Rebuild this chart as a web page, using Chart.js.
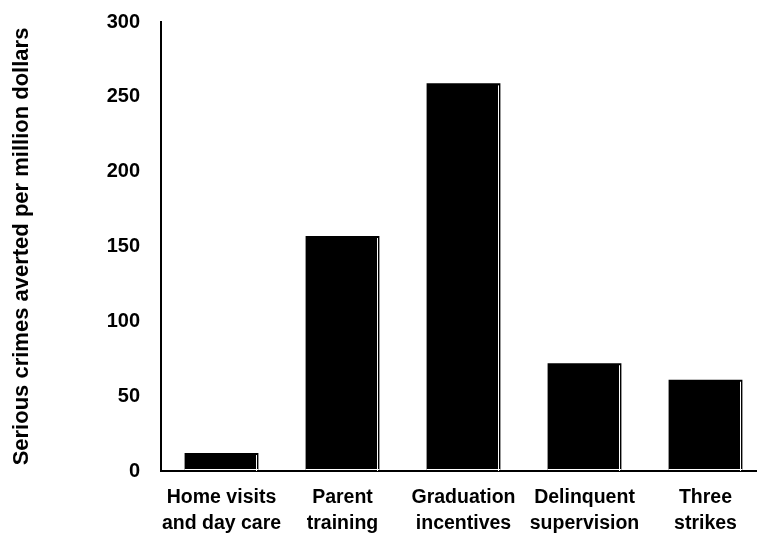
<!DOCTYPE html>
<html>
<head>
<meta charset="utf-8">
<script src="https://cdn.jsdelivr.net/npm/chart.js@4.4.1/dist/chart.umd.min.js"></script>
<style>
  html, body { margin: 0; padding: 0; background: #fff; overflow: hidden; }
  #wrap { width: 768px; height: 538px; }
</style>
</head>
<body>
<div id="wrap"><canvas id="chartCrimes"></canvas></div>
<script>
// datos
const categories = [
    ['Home visits', 'and day care'],
    ['Parent', 'training'],
    ['Graduation', 'incentives'],
    ['Delinquent', 'supervision'],
    ['Three', 'strikes']
];
const crimesAverted = [12, 157, 259, 72, 61];
const yTicks = [0, 50, 100, 150, 200, 250, 300];

const FONT = "'Liberation Sans', Arial, sans-serif";

// línea blanca interior en cada barra (efecto del original)
const barHighlightPlugin = {
    id: 'barHighlight',
    afterDatasetsDraw(chart) {
        const ctx = chart.ctx;
        chart.getDatasetMeta(0).data.forEach(bar => {
            const p = bar.getProps(['x', 'y', 'base', 'width'], true);
            const right = p.x + p.width / 2;
            const left = p.x - p.width / 2;
            ctx.save();
            ctx.strokeStyle = '#fff';
            ctx.lineWidth = 1;
            ctx.beginPath();
            ctx.moveTo(Math.round(right) - 1.5, p.y + 2);
            ctx.lineTo(Math.round(right) - 1.5, p.base);
            ctx.moveTo(left, Math.round(p.base) - 1.5);
            ctx.lineTo(right, Math.round(p.base) - 1.5);
            ctx.stroke();
            ctx.restore();
        });
    }
};

const ctx = document.getElementById('chartCrimes').getContext('2d');
new Chart(ctx, {
    type: 'bar',
    data: {
        labels: categories,
        datasets: [{
            data: crimesAverted,
            backgroundColor: '#000',
            borderWidth: 0,
            barPercentage: 0.61,
            categoryPercentage: 1.0
        }]
    },
    options: {
        responsive: true,
        maintainAspectRatio: false,
        animation: false,
        layout: { padding: { top: 22, right: 2, left: 0, bottom: 0 } },
        plugins: {
            legend: { display: false },
            tooltip: { enabled: false }
        },
        scales: {
            x: {
                grid: { display: false, drawTicks: false },
                border: { display: true, color: '#000', width: 2 },
                ticks: {
                    color: '#000',
                    padding: 14,
                    maxRotation: 0,
                    autoSkip: false,
                    font: { family: FONT, size: 19.5, weight: 'bold', lineHeight: 1.33 }
                },
                afterFit(scale) { scale.height = 67; }
            },
            y: {
                min: 0,
                max: 300,
                afterBuildTicks(scale) { scale.ticks = yTicks.map(v => ({ value: v })); },
                grid: { display: false, drawTicks: false },
                border: { display: true, color: '#000', width: 2 },
                ticks: {
                    color: '#000',
                    padding: 21,
                    font: { family: FONT, size: 20, weight: 'bold' }
                },
                title: {
                    display: true,
                    text: 'Serious crimes averted per million dollars',
                    color: '#000',
                    padding: { top: 9, bottom: 0 },
                    font: { family: FONT, size: 22, weight: 'bold', lineHeight: 1.2 }
                },
                afterFit(scale) {
                    scale.width = 161;
                    scale.paddingTop = 0;
                }
            }
        }
    },
    plugins: [barHighlightPlugin]
});
</script>
</body>
</html>
